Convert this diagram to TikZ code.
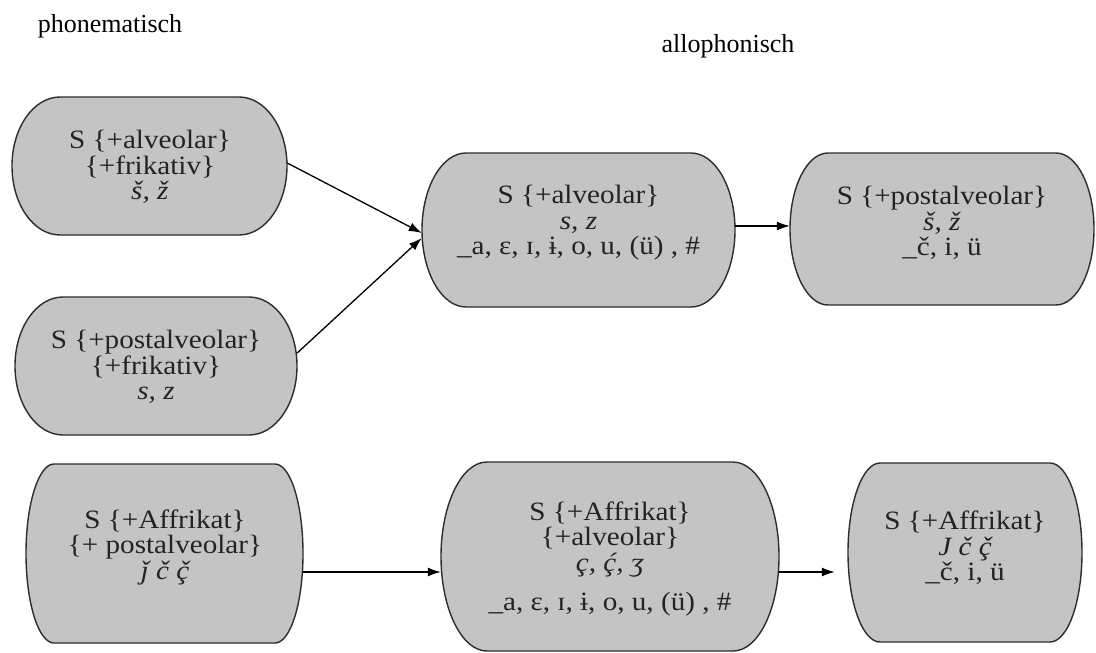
\documentclass[tikz,border=0pt]{standalone}
\usepackage{fontspec}
\setmainfont[FakeStretch=1.1]{Liberation Serif}
\newfontfamily\headfont{Liberation Serif}
\usetikzlibrary{arrows.meta}
\definecolor{boxgray}{RGB}{196,196,196}
\definecolor{edgegray}{RGB}{45,45,45}
\definecolor{txtgray}{RGB}{35,35,35}
\newcommand{\cvc}{\leavevmode\setbox0\hbox{ç}\rlap{\hbox to\wd0{\hss\kern0.12em ˇ\hss}}\box0}
\newcommand{\stadbox}[6]{%
  \pgfmathsetmacro{\sbry}{(#5-#3)/2}%
  \pgfmathsetmacro{\sbw}{#4-#2}%
  \pgfmathsetmacro{\sbh}{#5-#3}%
  \pgfmathsetmacro{\sbcx}{(#2+#4)/2}%
  \pgfmathsetmacro{\sbcy}{-(#3+#5)/2}%
  \draw[boxline] (#2+#6,-#3) -- (#4-#6,-#3)
     arc[start angle=90,end angle=-90,x radius=#6,y radius=\sbry]
     -- (#2+#6,-#5)
     arc[start angle=270,end angle=90,x radius=#6,y radius=\sbry] -- cycle;
  \node[inner sep=0pt, minimum width=\sbw pt, minimum height=\sbh pt] (#1) at (\sbcx,\sbcy) {};
}
\tikzset{
  boxline/.style={draw=edgegray, fill=boxgray, line width=1.4pt},
  boxtext/.style={align=center, inner sep=0pt, text=txtgray, font=\fontsize{26.5}{25.5}\selectfont},
  head/.style={inner sep=0pt, text=black, font=\headfont\fontsize{26}{28}\selectfont},
  conn/.style={draw=black, line width=1.3pt, -{Latex[length=13pt,width=9pt]}}
}
\begin{document}
\begin{tikzpicture}[x=1pt,y=1pt]
\useasboundingbox (0,0) rectangle (1096,-653);
\fill[white] (0,0) rectangle (1096,-653);

\node[head] (ph) at (110,-26) {phonematisch};
\node[head] (al) at (728,-46) {allophonisch};

\stadbox{A}{12}{97}{287}{235}{48}
\stadbox{B}{15}{297}{297}{435}{48}
\stadbox{C}{422}{153}{735}{307}{44}
\stadbox{D}{790}{153}{1094}{305}{38}
\stadbox{E}{26}{464}{303}{643}{28}
\stadbox{F}{441}{462}{779}{651}{46}
\stadbox{G}{848}{463}{1082}{642}{32}

\node[boxtext] (At) at (150,-167) {S \{+alveolar\}\\\{+frikativ\}\\\textit{š, ž}};
\node[boxtext] (Bt) at (156,-367) {S \{+postalveolar\}\\\{+frikativ\}\\\textit{s, z}};
\node[boxtext] (Ct) at (578.5,-223) {S \{+alveolar\}\\\textit{s, z}\\\_a, ɛ, ɪ, ɨ, o, u, (ü) , \#};
\node[boxtext] (Dt) at (942,-223) {S \{+postalveolar\}\\\textit{š, ž}\\\_č, i, ü};
\node[boxtext] (Et) at (165,-547) {S \{+Affrikat\}\\\{+ postalveolar\}\\\textit{ǰ č \cvc}};
\node[boxtext] (Ft) at (610,-559) {S \{+Affrikat\}\\\{+alveolar\}\\\textit{ç, ḉ, ʒ}\\[14pt]\_a, ɛ, ɪ, ɨ, o, u, (ü) , \#};
\node[boxtext] (Gt) at (965,-548) {S \{+Affrikat\}\\\textit{J č \cvc}\\\_č, i, ü};

\draw[conn] ([yshift=3pt]A.east) -- ([yshift=-3pt]C.west);
\draw[conn] ([yshift=13pt]B.east) -- ([yshift=-8pt]C.west);
\draw[conn] ([yshift=4pt]C.east) -- ([yshift=3pt]D.west);
\draw[conn] ([yshift=-18.5pt]E.east) -- ([yshift=-15.5pt]F.west);
\draw[conn] ([yshift=-15.5pt]F.east) -- ([xshift=-13pt,yshift=-19.5pt]G.west);
\end{tikzpicture}
\end{document}
